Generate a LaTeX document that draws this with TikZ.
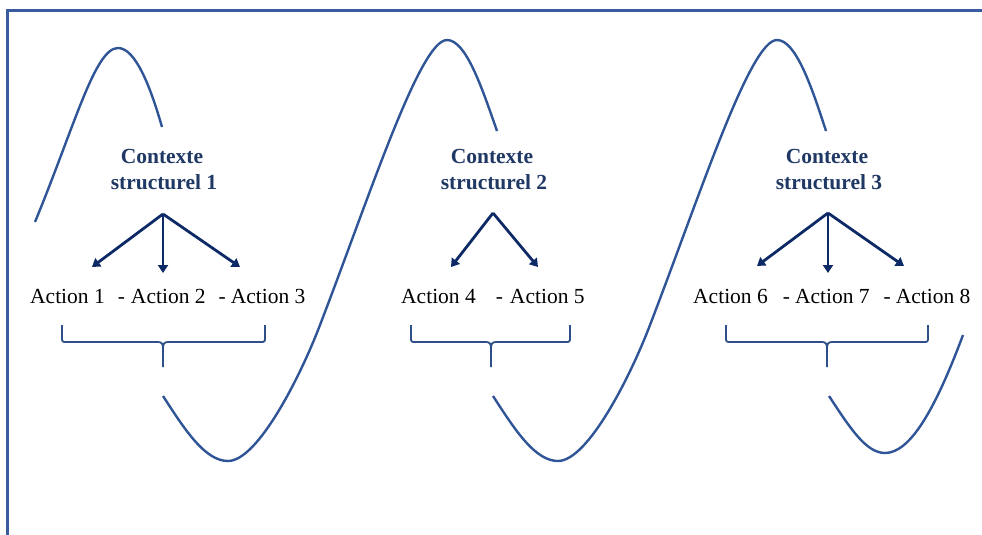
\documentclass[tikz,border=0pt]{standalone}
\usepackage{fontspec}
\setmainfont{Liberation Serif}
\usetikzlibrary{arrows.meta}
\definecolor{framecol}{HTML}{3A5C9E}
\definecolor{wavecol}{HTML}{2F5597}
\definecolor{navy}{HTML}{1F3864}
\definecolor{arrowcol}{HTML}{0E2A66}
\definecolor{bracecol}{HTML}{2F4F88}
\tikzset{
  framestyle/.style={draw=framecol, line width=3pt},
  wave/.style={draw=wavecol, line width=2.4pt},
  ctx/.style={anchor=base, inner sep=0pt, text=navy, font=\fontsize{21.5}{26}\selectfont\bfseries},
  acts/.style={anchor=base west, inner sep=0pt, text=black, font=\fontsize{21.5}{26}\selectfont},
  branch/.style={draw=arrowcol, line width=2.8pt, -{Triangle[length=8pt,width=10pt]}},
  bracestyle/.style={draw=bracecol, line width=1.8pt}
}
\begin{document}
\begin{tikzpicture}[x=1pt,y=-1pt]
\useasboundingbox (0,0) rectangle (982,535);
% frame (left and top)
\draw[framestyle] (7.5,536) -- (7.5,10.5) -- (983,10.5);

% waves
\draw[wave] (35,222) .. controls (75,125) and (95,48) .. (118,48)
            .. controls (135,48) and (150,85) .. (162,127);
\draw[wave] (163,396) .. controls (185,430) and (205,461) .. (228,461)
            .. controls (258,461) and (301,375) .. (320,325)
            .. controls (370,195) and (420,40) .. (447,40)
            .. controls (466,40) and (482,88) .. (497,131);
\draw[wave] (493,396) .. controls (515,430) and (535,461) .. (558,461)
            .. controls (588,461) and (631,375) .. (650,325)
            .. controls (700,195) and (750,40) .. (777,40)
            .. controls (796,40) and (812,88) .. (826,131);
\draw[wave] (829,396) .. controls (850,428) and (866,453) .. (885,453)
            .. controls (910,453) and (935,410) .. (963,335);

% context labels
\node[ctx] (c1a) at (162,163) {Contexte};
\node[ctx] (c1b) at (164,189) {structurel 1};
\node[ctx] (c2a) at (492,163) {Contexte};
\node[ctx] (c2b) at (494,189) {structurel 2};
\node[ctx] (c3a) at (827,163) {Contexte};
\node[ctx] (c3b) at (829,189) {structurel 3};

% action lines
\node[acts] (a1) at (30,303) {Action 1\hspace{13pt}-\hspace{6pt}Action 2\hspace{13pt}-\hspace{5pt}Action 3};
\node[acts] (a2) at (401,303) {Action 4\hspace{20pt}-\hspace{7pt}Action 5};
\node[acts] (a3) at (693,303) {Action 6\hspace{15pt}-\hspace{5pt}Action 7\hspace{14pt}-\hspace{5pt}Action 8};

% branch points and tips
\coordinate (o1) at (163,214);
\coordinate (t11) at (92,267);
\coordinate (t12) at (163,273);
\coordinate (t13) at (240,267);
\coordinate (o2) at (493,213);
\coordinate (t21) at (451,267);
\coordinate (t22) at (538,267);
\coordinate (o3) at (828,213);
\coordinate (t31) at (757,266);
\coordinate (t32) at (828,273);
\coordinate (t33) at (904,266);

\draw[branch] (o1) -- (t11);
\draw[branch] (o1) -- (t12);
\draw[branch] (o1) -- (t13);
\draw[branch] (o2) -- (t21);
\draw[branch] (o2) -- (t22);
\draw[branch] (o3) -- (t31);
\draw[branch] (o3) -- (t32);
\draw[branch] (o3) -- (t33);

% braces
\foreach \L/\C/\R in {62/163/265, 411/491/570, 726/827/928}{
  \draw[bracestyle] (\L,325) -- (\L,337) .. controls (\L,342) .. (\L+5,342)
        -- (\C-5,342) .. controls (\C-1,342) and (\C,344) .. (\C,349) -- (\C,367);
  \draw[bracestyle] (\C,349) .. controls (\C,344) and (\C+1,342) .. (\C+5,342)
        -- (\R-5,342) .. controls (\R,342) .. (\R,337) -- (\R,325);
}
\end{tikzpicture}
\end{document}
